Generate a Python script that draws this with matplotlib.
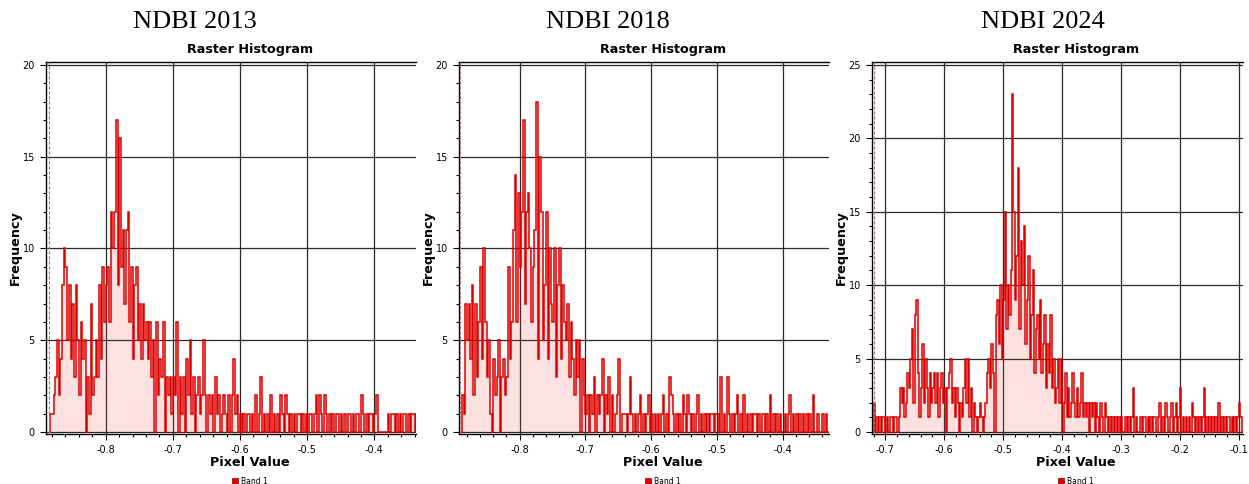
import matplotlib
matplotlib.use("Agg")
import matplotlib.pyplot as plt
import numpy as np
from matplotlib.ticker import MultipleLocator, FormatStrFormatter

plt.rcParams["axes.unicode_minus"] = False

BIN_W = 0.0025

start_2013 = -0.885
counts_2013 = [
    0, 1, 1, 2, 3, 5, 2, 4, 8, 10, 9, 5, 8, 4, 7, 3, 8, 5, 2, 6,
    4, 5, 0, 3, 1, 7, 2, 3, 5, 3, 8, 4, 9, 6, 8, 9, 6, 12, 10, 12,
    17, 8, 16, 9, 11, 7, 11, 12, 6, 9, 4, 8, 9, 5, 7, 4, 7, 5, 6, 4,
    6, 3, 5, 0, 6, 2, 4, 3, 6, 0, 3, 2, 3, 1, 3, 2, 6, 0, 3, 1,
    3, 0, 4, 2, 5, 1, 3, 0, 2, 3, 1, 2, 5, 2, 0, 2, 1, 2, 0, 3,
    1, 2, 0, 1, 2, 1, 0, 2, 0, 2, 4, 1, 2, 0, 1, 0, 1, 0, 1, 1,
    0, 1, 0, 2, 0, 1, 3, 0, 1, 0, 1, 0, 2, 0, 1, 0, 1, 0, 2, 1,
    0, 2, 1, 0, 1, 0, 1, 0, 1, 1, 0, 1, 0, 1, 0, 1, 1, 0, 1, 2,
    0, 2, 1, 0, 2, 1, 0, 1, 0, 1, 0, 1, 1, 0, 1, 0, 1, 0, 1, 1,
    0, 1, 0, 1, 1, 0, 2, 1, 0, 1, 0, 1, 1, 0, 1, 2, 0, 0, 0, 0,
    0, 0, 1, 0, 1, 1, 0, 1, 0, 1, 0, 1, 1, 0, 1, 0, 1, 1, 0, 1,
]

start_2018 = -0.890
counts_2018 = [
    0, 2, 1, 7, 5, 7, 4, 8, 2, 7, 3, 6, 9, 4, 10, 6, 3, 5, 1, 0,
    4, 2, 3, 5, 0, 3, 4, 2, 3, 9, 4, 6, 11, 14, 6, 13, 9, 12, 17, 7,
    12, 13, 10, 6, 9, 11, 18, 4, 15, 12, 5, 8, 12, 4, 10, 7, 6, 10, 3, 8,
    10, 4, 8, 6, 5, 7, 3, 6, 4, 2, 5, 3, 5, 0, 4, 2, 1, 2, 0, 2,
    1, 3, 0, 2, 1, 2, 4, 0, 2, 1, 3, 0, 2, 0, 1, 2, 4, 0, 1, 1,
    1, 0, 1, 3, 1, 0, 1, 0, 1, 2, 0, 1, 0, 1, 2, 0, 1, 0, 1, 0,
    1, 0, 1, 2, 0, 1, 0, 3, 2, 1, 0, 1, 0, 1, 0, 2, 1, 0, 2, 1,
    0, 1, 0, 1, 2, 0, 1, 0, 1, 0, 1, 0, 1, 1, 0, 1, 1, 0, 3, 0,
    1, 0, 3, 1, 0, 1, 0, 1, 2, 0, 1, 0, 2, 0, 1, 0, 1, 0, 1, 1,
    0, 1, 0, 1, 1, 0, 1, 0, 2, 0, 1, 0, 1, 0, 1, 0, 0, 1, 0, 1,
    2, 0, 1, 0, 1, 0, 1, 0, 1, 0, 1, 0, 1, 0, 2, 0, 0, 1, 0, 0,
    1, 0, 1, 0, 0, 0, 0, 0,
]

start_2024 = -0.720
counts_2024 = [
    2, 0, 1, 0, 1, 0, 1, 1, 0, 1, 0, 1, 1, 0, 1, 1, 0, 1, 3, 2,
    3, 1, 2, 4, 3, 5, 7, 2, 8, 9, 4, 1, 3, 6, 2, 5, 3, 1, 4, 2,
    3, 4, 2, 4, 1, 3, 4, 2, 3, 0, 3, 4, 5, 2, 3, 1, 3, 2, 0, 2,
    1, 3, 5, 2, 5, 1, 3, 0, 2, 1, 0, 1, 2, 1, 0, 1, 2, 4, 5, 3,
    6, 4, 0, 8, 9, 6, 10, 5, 9, 15, 7, 10, 8, 11, 23, 15, 9, 12, 18, 7,
    13, 10, 14, 6, 9, 12, 5, 8, 11, 4, 7, 8, 5, 9, 4, 6, 8, 3, 6, 4,
    8, 3, 5, 2, 3, 5, 2, 5, 0, 2, 4, 1, 3, 1, 2, 4, 2, 1, 3, 1,
    2, 4, 1, 2, 1, 2, 0, 2, 1, 2, 0, 2, 1, 0, 2, 1, 0, 2, 1, 0,
    1, 0, 1, 0, 1, 0, 1, 0, 1, 0, 0, 1, 0, 1, 0, 1, 3, 0, 1, 0,
    0, 1, 0, 1, 1, 0, 1, 0, 1, 0, 1, 1, 0, 1, 2, 0, 1, 0, 2, 1,
    0, 1, 2, 0, 1, 2, 0, 1, 3, 0, 1, 0, 1, 0, 1, 0, 2, 1, 0, 1,
    0, 1, 0, 1, 3, 0, 1, 0, 1, 0, 1, 0, 1, 0, 2, 0, 1, 0, 1, 0,
    1, 1, 0, 1, 0, 1, 0, 1, 2, 1, 0,
]

titles = ["NDBI 2013", "NDBI 2018", "NDBI 2024"]
chart_title = "Raster Histogram"
x_label = "Pixel Value"
y_label = "Frequency"
legend_label = "Band 1"

series = [(start_2013, counts_2013), (start_2018, counts_2018), (start_2024, counts_2024)]
xlims = [(-0.889, -0.338), (-0.892, -0.330), (-0.7226, -0.093)]
ylims = [(-0.11, 20.16), (-0.11, 20.16), (-0.136, 25.2)]
yticks_max = [20, 20, 25]

W, H = 1249, 484
fig = plt.figure(figsize=(W / 100, H / 100), dpi=100)
fig.patch.set_facecolor("white")

lefts = [46, 459, 872]
widths = [370, 370, 371]
title_centers = [195, 608, 1043]
ax_top, ax_bot = 62, 434


def fx(px):
    return px / W


def fy(py):
    return 1 - py / H


for i in range(3):
    l = lefts[i]
    ax = fig.add_axes([fx(l), fy(ax_bot), widths[i] / W, (ax_bot - ax_top) / H])
    start, counts = series[i]
    counts = np.array(counts, dtype=float)
    edges = start + BIN_W * np.arange(len(counts) + 1)

    ax.stairs(counts, edges, fill=True, color="#ff3030", alpha=0.15, lw=0, zorder=2)
    ax.stairs(counts, edges, color="#dc0000", lw=1.1, baseline=0, zorder=3)
    ax.axvline(edges[0], color="#b07878", ls=(0, (2.5, 1.5)), lw=0.9, zorder=4)

    ax.set_xlim(*xlims[i])
    ax.set_ylim(*ylims[i])
    ax.xaxis.set_major_locator(MultipleLocator(0.1))
    ax.xaxis.set_minor_locator(MultipleLocator(0.02))
    ax.xaxis.set_major_formatter(FormatStrFormatter("%.1f"))
    ax.set_yticks(np.arange(0, yticks_max[i] + 1, 5))
    ax.yaxis.set_minor_locator(MultipleLocator(1))

    ax.grid(True, which="major", color="#2a2a2a", lw=0.9, zorder=1)
    ax.set_axisbelow(True)
    ax.tick_params(axis="both", which="major", direction="out", length=4, width=0.8,
                   labelsize=7, pad=4, colors="black")
    ax.tick_params(axis="both", which="minor", direction="out", length=2.5, width=0.8)
    for s in ["left", "bottom", "top"]:
        ax.spines[s].set_color("black")
        ax.spines[s].set_linewidth(1.0)
    ax.spines["right"].set_visible(False)

    cx = l + 204
    fig.text(fx(title_centers[i]), fy(22), titles[i],
             family="Liberation Serif", fontsize=19, ha="center", va="center")
    fig.text(fx(cx), fy(49), chart_title, fontsize=9.2, fontweight="bold",
             ha="center", va="center")
    fig.text(fx(cx), fy(462), x_label, fontsize=9.2, fontweight="bold",
             ha="center", va="center")
    fig.text(fx(l - 31), fy(248), y_label, fontsize=9.2, fontweight="bold",
             ha="center", va="center", rotation=90)
    fig.patches.append(plt.Rectangle((fx(cx - 18), fy(484)), 6 / W, 6 / H,
                                     transform=fig.transFigure, color="#e00000",
                                     ec="#900000", lw=0.5))
    fig.text(fx(cx - 9), fy(481), legend_label, fontsize=5.5, ha="left", va="center")

fig.savefig("out.png", dpi=100, facecolor="white")
